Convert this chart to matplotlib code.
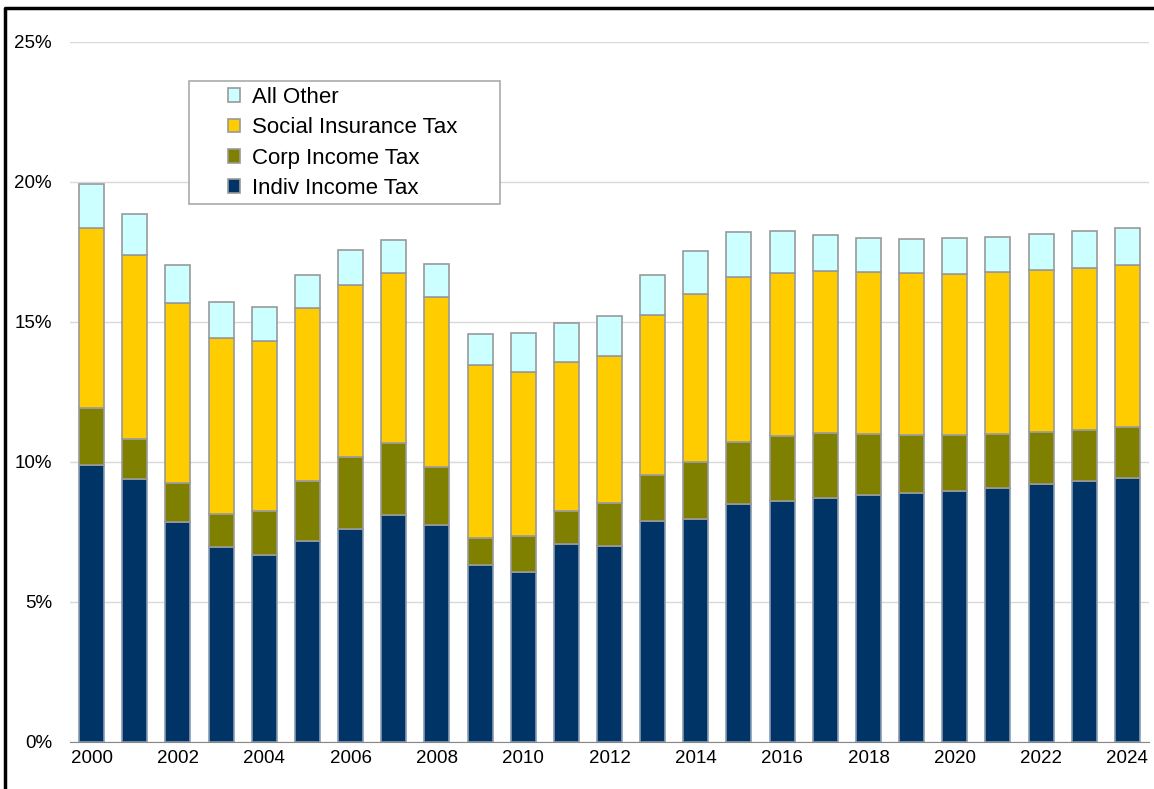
import numpy as np
import matplotlib
matplotlib.use('Agg')
import matplotlib.pyplot as plt
from matplotlib.patches import Rectangle, Patch
from matplotlib.lines import Line2D
from matplotlib.ticker import FuncFormatter

plt.rcParams['font.family'] = ['Liberation Sans', 'DejaVu Sans']

# ── Data (share of GDP, %) ───────────────────────────────────────────────────
years = list(range(2000, 2025))
indiv = [9.88, 9.39, 7.86, 6.98, 6.68, 7.18, 7.60, 8.11, 7.75, 6.32,
         6.06, 7.07, 7.01, 7.90, 7.98, 8.50, 8.62, 8.72, 8.82, 8.90,
         8.96, 9.08, 9.20, 9.31, 9.43]
corp_top = [11.92, 10.83, 9.26, 8.15, 8.25, 9.32, 10.19, 10.69, 9.82, 7.30,
            7.36, 8.25, 8.53, 9.55, 10.00, 10.71, 10.93, 11.02, 11.01, 10.95,
            10.95, 11.00, 11.07, 11.14, 11.25]
social_top = [18.35, 17.39, 15.68, 14.43, 14.32, 15.51, 16.32, 16.76, 15.90, 13.48,
              13.20, 13.57, 13.77, 15.25, 16.00, 16.62, 16.76, 16.83, 16.80, 16.75,
              16.73, 16.79, 16.86, 16.94, 17.05]
total = [19.93, 18.85, 17.02, 15.71, 15.55, 16.69, 17.57, 17.92, 17.08, 14.58,
         14.61, 14.95, 15.21, 16.68, 17.55, 18.23, 18.24, 18.10, 17.99, 17.98,
         18.00, 18.05, 18.14, 18.24, 18.35]

corp = np.array(corp_top) - np.array(indiv)
social = np.array(social_top) - np.array(corp_top)
other = np.array(total) - np.array(social_top)

labels = ['Indiv Income Tax', 'Corp Income Tax', 'Social Insurance Tax', 'All Other']
colors = ['#003366', '#808000', '#FFCC00', '#CCFFFF']
EDGE = '#999999'

# ── Figure ───────────────────────────────────────────────────────────────────
fig = plt.figure(figsize=(11.54, 7.89), dpi=100)
W, H = 1154, 789
ax = fig.add_axes([70 / W, 1 - 742 / H, (1149 - 70) / W, (742 - 42) / H])

x = np.arange(len(years))
bottom = np.zeros(len(years))
for vals, col in zip([indiv, corp, social, other], colors):
    ec = '#8a9bb0' if col == '#003366' else EDGE
    ax.bar(x, vals, 0.58, bottom=bottom, color=col, edgecolor=ec,
           linewidth=1.2, zorder=3)
    bottom = bottom + np.array(vals)

ax.set_xlim(-0.5, len(years) - 0.5)
ax.set_ylim(0, 25)
ax.set_yticks(np.arange(0, 26, 5))
ax.yaxis.set_major_formatter(FuncFormatter(lambda v, p: f'{v:.0f}%'))
ax.set_xticks(x[::2])
ax.set_xticklabels([str(y) for y in years[::2]])
ax.tick_params(axis='both', length=0, labelsize=13.5, colors='black')
ax.tick_params(axis='y', pad=13)
ax.tick_params(axis='x', pad=6)
ax.grid(axis='y', color='#d9d9d9', lw=1.0, zorder=0)
for s in ['top', 'right', 'left']:
    ax.spines[s].set_visible(False)
ax.spines['bottom'].set_color('#888888')
ax.spines['bottom'].set_zorder(4)

# ── Legend ───────────────────────────────────────────────────────────────────
handles = [Patch(facecolor=c, edgecolor=EDGE, linewidth=1.2) for c in colors][::-1]
leg = fig.legend(handles, labels[::-1], loc='upper left',
                 bbox_to_anchor=(228 / W, 1 - 87 / H), frameon=False,
                 fontsize=16, handlelength=0.55, handleheight=0.55,
                 handletextpad=0.55, labelspacing=0.42, borderpad=0,
                 borderaxespad=0)
fig.add_artist(Rectangle((189 / W, 1 - 204 / H), (500 - 189) / W, (204 - 81) / H,
                         transform=fig.transFigure, facecolor='white',
                         edgecolor='#aaaaaa', lw=1.2, zorder=2))
leg.set_zorder(5)

# ── Outer frame (left and top edges visible) ────────────────────────────────
fig.add_artist(Line2D([5 / W, 5 / W, 1.01], [-0.01, 1 - 7.5 / H, 1 - 7.5 / H],
                      transform=fig.transFigure, color='black', lw=2.5))

fig.savefig('out.png', dpi=100)
